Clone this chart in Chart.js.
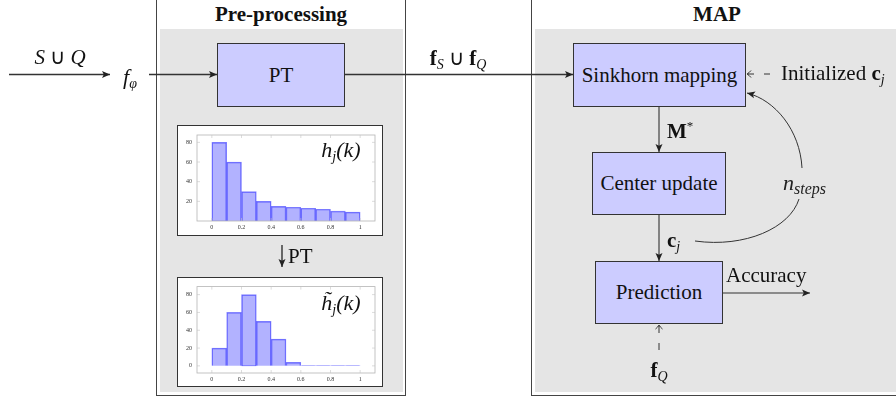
<!DOCTYPE html>
<html><head><meta charset="utf-8">
<script src="https://cdn.jsdelivr.net/npm/chart.js@4"></script>
<style>
html,body{margin:0;padding:0;background:#fff;}
#root{position:relative;width:896px;height:398px;overflow:hidden;font-family:"Liberation Serif","DejaVu Serif",serif;color:#111;}
.abs{position:absolute;}
.outer{position:absolute;border:1.5px solid #444;box-sizing:border-box;background:#fff;}
.gray{position:absolute;background:#e5e5e5;}
.box{position:absolute;background:#ccccff;border:1.4px solid #333;box-sizing:border-box;display:flex;align-items:center;justify-content:center;font-size:21px;font-family:"Liberation Serif",serif;}
.t{position:absolute;white-space:nowrap;font-size:21px;line-height:1;font-family:"Liberation Serif",serif;}
.c{transform:translate(-50%,-50%);}
.l{transform:translate(0,-50%);}
.m{font-style:italic;}
sub{font-size:14px;vertical-align:-4px;line-height:0;}
.frame{position:absolute;background:#fff;border:1.6px solid #333;box-sizing:border-box;}
</style></head>
<body><div id="root">
  <div class="outer" style="left:156px;top:-10px;width:250px;height:406px;"></div>
  <div class="gray" style="left:160px;top:29px;width:243px;height:363px;"></div>
  <div class="outer" style="left:531px;top:-10px;width:380px;height:406px;"></div>
  <div class="gray" style="left:535px;top:29px;width:370px;height:363px;"></div>

  <div class="t c" style="left:281px;top:14px;font-weight:bold;">Pre-processing</div>
  <div class="t c" style="left:717px;top:14px;font-weight:bold;">MAP</div>

  <div class="box" style="left:217px;top:43px;width:128px;height:64px;">PT</div>
  <div class="box" style="left:573px;top:43px;width:173px;height:64px;">Sinkhorn mapping</div>
  <div class="box" style="left:592px;top:152px;width:134px;height:63px;">Center update</div>
  <div class="box" style="left:595px;top:261px;width:128px;height:63px;">Prediction</div>

  <div class="frame" style="left:177px;top:125px;width:206px;height:111px;">
    <canvas id="h1" width="203" height="108" style="position:absolute;left:0;top:0;"></canvas>
  </div>
  <div class="frame" style="left:177px;top:277px;width:206px;height:110px;">
    <canvas id="h2" width="203" height="107" style="position:absolute;left:0;top:0;"></canvas>
  </div>
  <div class="t c m" style="left:341px;top:150px;font-size:22px;">h<sub>j</sub>(k)</div>
  <div class="t c m" style="left:341px;top:303px;font-size:22px;">h&#771;<sub>j</sub>(k)</div>

  <svg class="abs" style="left:0;top:0;" width="896" height="398">
    <defs>
      <marker id="ah" markerUnits="userSpaceOnUse" markerWidth="10" markerHeight="8" refX="8" refY="4" orient="auto">
        <path d="M0,0.5 L8,4 L0,7.5 L1.8,4 Z" fill="#222"/>
      </marker>
      <marker id="to" markerUnits="userSpaceOnUse" markerWidth="8" markerHeight="10" refX="5" refY="5" orient="auto">
        <path d="M1,1.5 Q3,4 5,5 Q3,6 1,8.5" fill="none" stroke="#222" stroke-width="0.9"/>
      </marker>
    </defs>
    <g stroke="#333" stroke-width="1.4" fill="none">
      <line x1="9" y1="74.5" x2="110" y2="74.5" marker-end="url(#ah)"/>
      <line x1="149" y1="74.5" x2="217" y2="74.5" marker-end="url(#ah)"/>
      <line x1="345" y1="74.5" x2="573" y2="74.5" marker-end="url(#ah)"/>
      <line x1="282" y1="245" x2="282" y2="267" marker-end="url(#ah)"/>
      <line x1="659" y1="107" x2="659" y2="152" marker-end="url(#ah)" stroke-width="1.1"/>
      <line x1="659" y1="215" x2="659" y2="261" marker-end="url(#ah)" stroke-width="1.1"/>
      <line x1="723" y1="293" x2="810" y2="293" marker-end="url(#ah)" stroke-width="1.1"/>
      <line x1="770" y1="74" x2="747" y2="74" stroke-dasharray="6 10" marker-end="url(#to)" stroke-width="1"/>
      <line x1="659" y1="350" x2="659" y2="325" stroke-dasharray="7 10" marker-end="url(#to)" stroke-width="1"/>
      <path d="M695 241 C 745 248, 790 228, 799 199" stroke-width="1"/>
      <path d="M802 168 C 800 130, 775 100, 747 93" stroke-width="1" marker-end="url(#ah)"/>
    </g>
  </svg>

  <div class="t c" style="left:60px;top:57px;font-size:21px;"><span class="m">S</span> &#8746; <span class="m">Q</span></div>
  <div class="t c m" style="left:130px;top:77px;font-size:22px;">f<sub>&#966;</sub></div>
  <div class="t c" style="left:458px;top:58px;font-size:21px;"><b>f</b><sub class="m">S</sub> &#8746; <b>f</b><sub class="m">Q</sub></div>
  <div class="t l" style="left:288px;top:256px;">PT</div>
  <div class="t l" style="left:667px;top:131px;"><b>M</b><sup style="font-size:13px;line-height:0;">*</sup></div>
  <div class="t l" style="left:667px;top:240px;"><b>c</b><sub class="m">j</sub></div>
  <div class="t l m" style="left:783px;top:183px;color:#222;font-size:22px;">n<sub style="font-size:16px;">steps</sub></div>
  <div class="t l" style="left:781px;top:73px;">Initialized <b>c</b><sub class="m">j</sub></div>
  <div class="t l" style="left:726px;top:275px;">Accuracy</div>
  <div class="t c" style="left:659px;top:370px;"><b>f</b><sub class="m">Q</sub></div>
</div>
<script>
// ---- data ----
const binCenters = [0.05, 0.15, 0.25, 0.35, 0.45, 0.55, 0.65, 0.75, 0.85, 0.95];
const hValues = [80, 60, 30, 20, 15, 14, 13, 12, 10, 9];
const hTildeValues = [20, 60, 80, 50, 30, 4, 0.4, 0.4, 0.4, 0.4];
const xTickValues = [0, 0.2, 0.4, 0.6, 0.8, 1];
const yTicksH = [20, 40, 60, 80];
const yTicksHTilde = [0, 20, 40, 60, 80];

const framePlugin = {
  id: 'frame',
  afterDraw(chart) {
    const ctx = chart.ctx, a = chart.chartArea, xs = chart.scales.x, ys = chart.scales.y;
    ctx.save();
    ctx.strokeStyle = '#b5b5b5'; ctx.lineWidth = 0.8;
    ctx.strokeRect(a.left, a.top, a.right - a.left, a.bottom - a.top);
    ctx.strokeStyle = '#c4c4c4'; ctx.lineWidth = 0.6;
    ctx.beginPath();
    xs.ticks.forEach(t => {
      const p = xs.getPixelForValue(t.value);
      ctx.moveTo(p, a.bottom); ctx.lineTo(p, a.bottom - 3);
      ctx.moveTo(p, a.top); ctx.lineTo(p, a.top + 3);
    });
    ys.ticks.forEach(t => {
      const p = ys.getPixelForValue(t.value);
      ctx.moveTo(a.left, p); ctx.lineTo(a.left + 3, p);
      ctx.moveTo(a.right, p); ctx.lineTo(a.right - 3, p);
    });
    ctx.stroke();
    ctx.restore();
  }
};

function makeHist(id, values, yTicks, ymin, ymax, pad, xh) {
  new Chart(document.getElementById(id), {
    type: 'bar',
    data: { datasets: [{
      data: binCenters.map((c, i) => ({ x: c, y: values[i] })),
      backgroundColor: 'rgba(0,0,255,0.3)',
      borderColor: 'rgba(50,50,255,0.6)',
      borderWidth: 0.8,
      barPercentage: 1, categoryPercentage: 1
    }]},
    options: {
      responsive: false, animation: false,
      layout: { padding: pad },
      plugins: { legend: { display: false }, tooltip: { enabled: false } },
      scales: {
        x: {
          type: 'linear', min: -0.1, max: 1.1, offset: false,
          grid: { display: false, drawTicks: false }, border: { display: false },
          afterBuildTicks: s => { s.ticks = xTickValues.map(v => ({ value: v })); },
          afterFit: s => { s.height = xh; },
          ticks: { padding: 3, color: '#333', maxRotation: 0, font: { family: 'Liberation Serif', size: 6 },
                   callback: v => String(v) }
        },
        y: {
          min: ymin, max: ymax,
          grid: { display: false, drawTicks: false }, border: { display: false },
          afterBuildTicks: s => { s.ticks = yTicks.map(v => ({ value: v })); },
          afterFit: s => { s.width = 19; },
          ticks: { padding: 5, color: '#333', font: { family: 'Liberation Serif', size: 6 } }
        }
      }
    },
    plugins: [framePlugin]
  });
}
makeHist('h1', hValues, yTicksH, 0, 87.5, { left: 0, right: 6, top: 9, bottom: 0 }, 13);
makeHist('h2', hTildeValues, yTicksHTilde, -8, 89, { left: 0, right: 6, top: 5, bottom: 0 }, 12);
</script>
</body></html>
